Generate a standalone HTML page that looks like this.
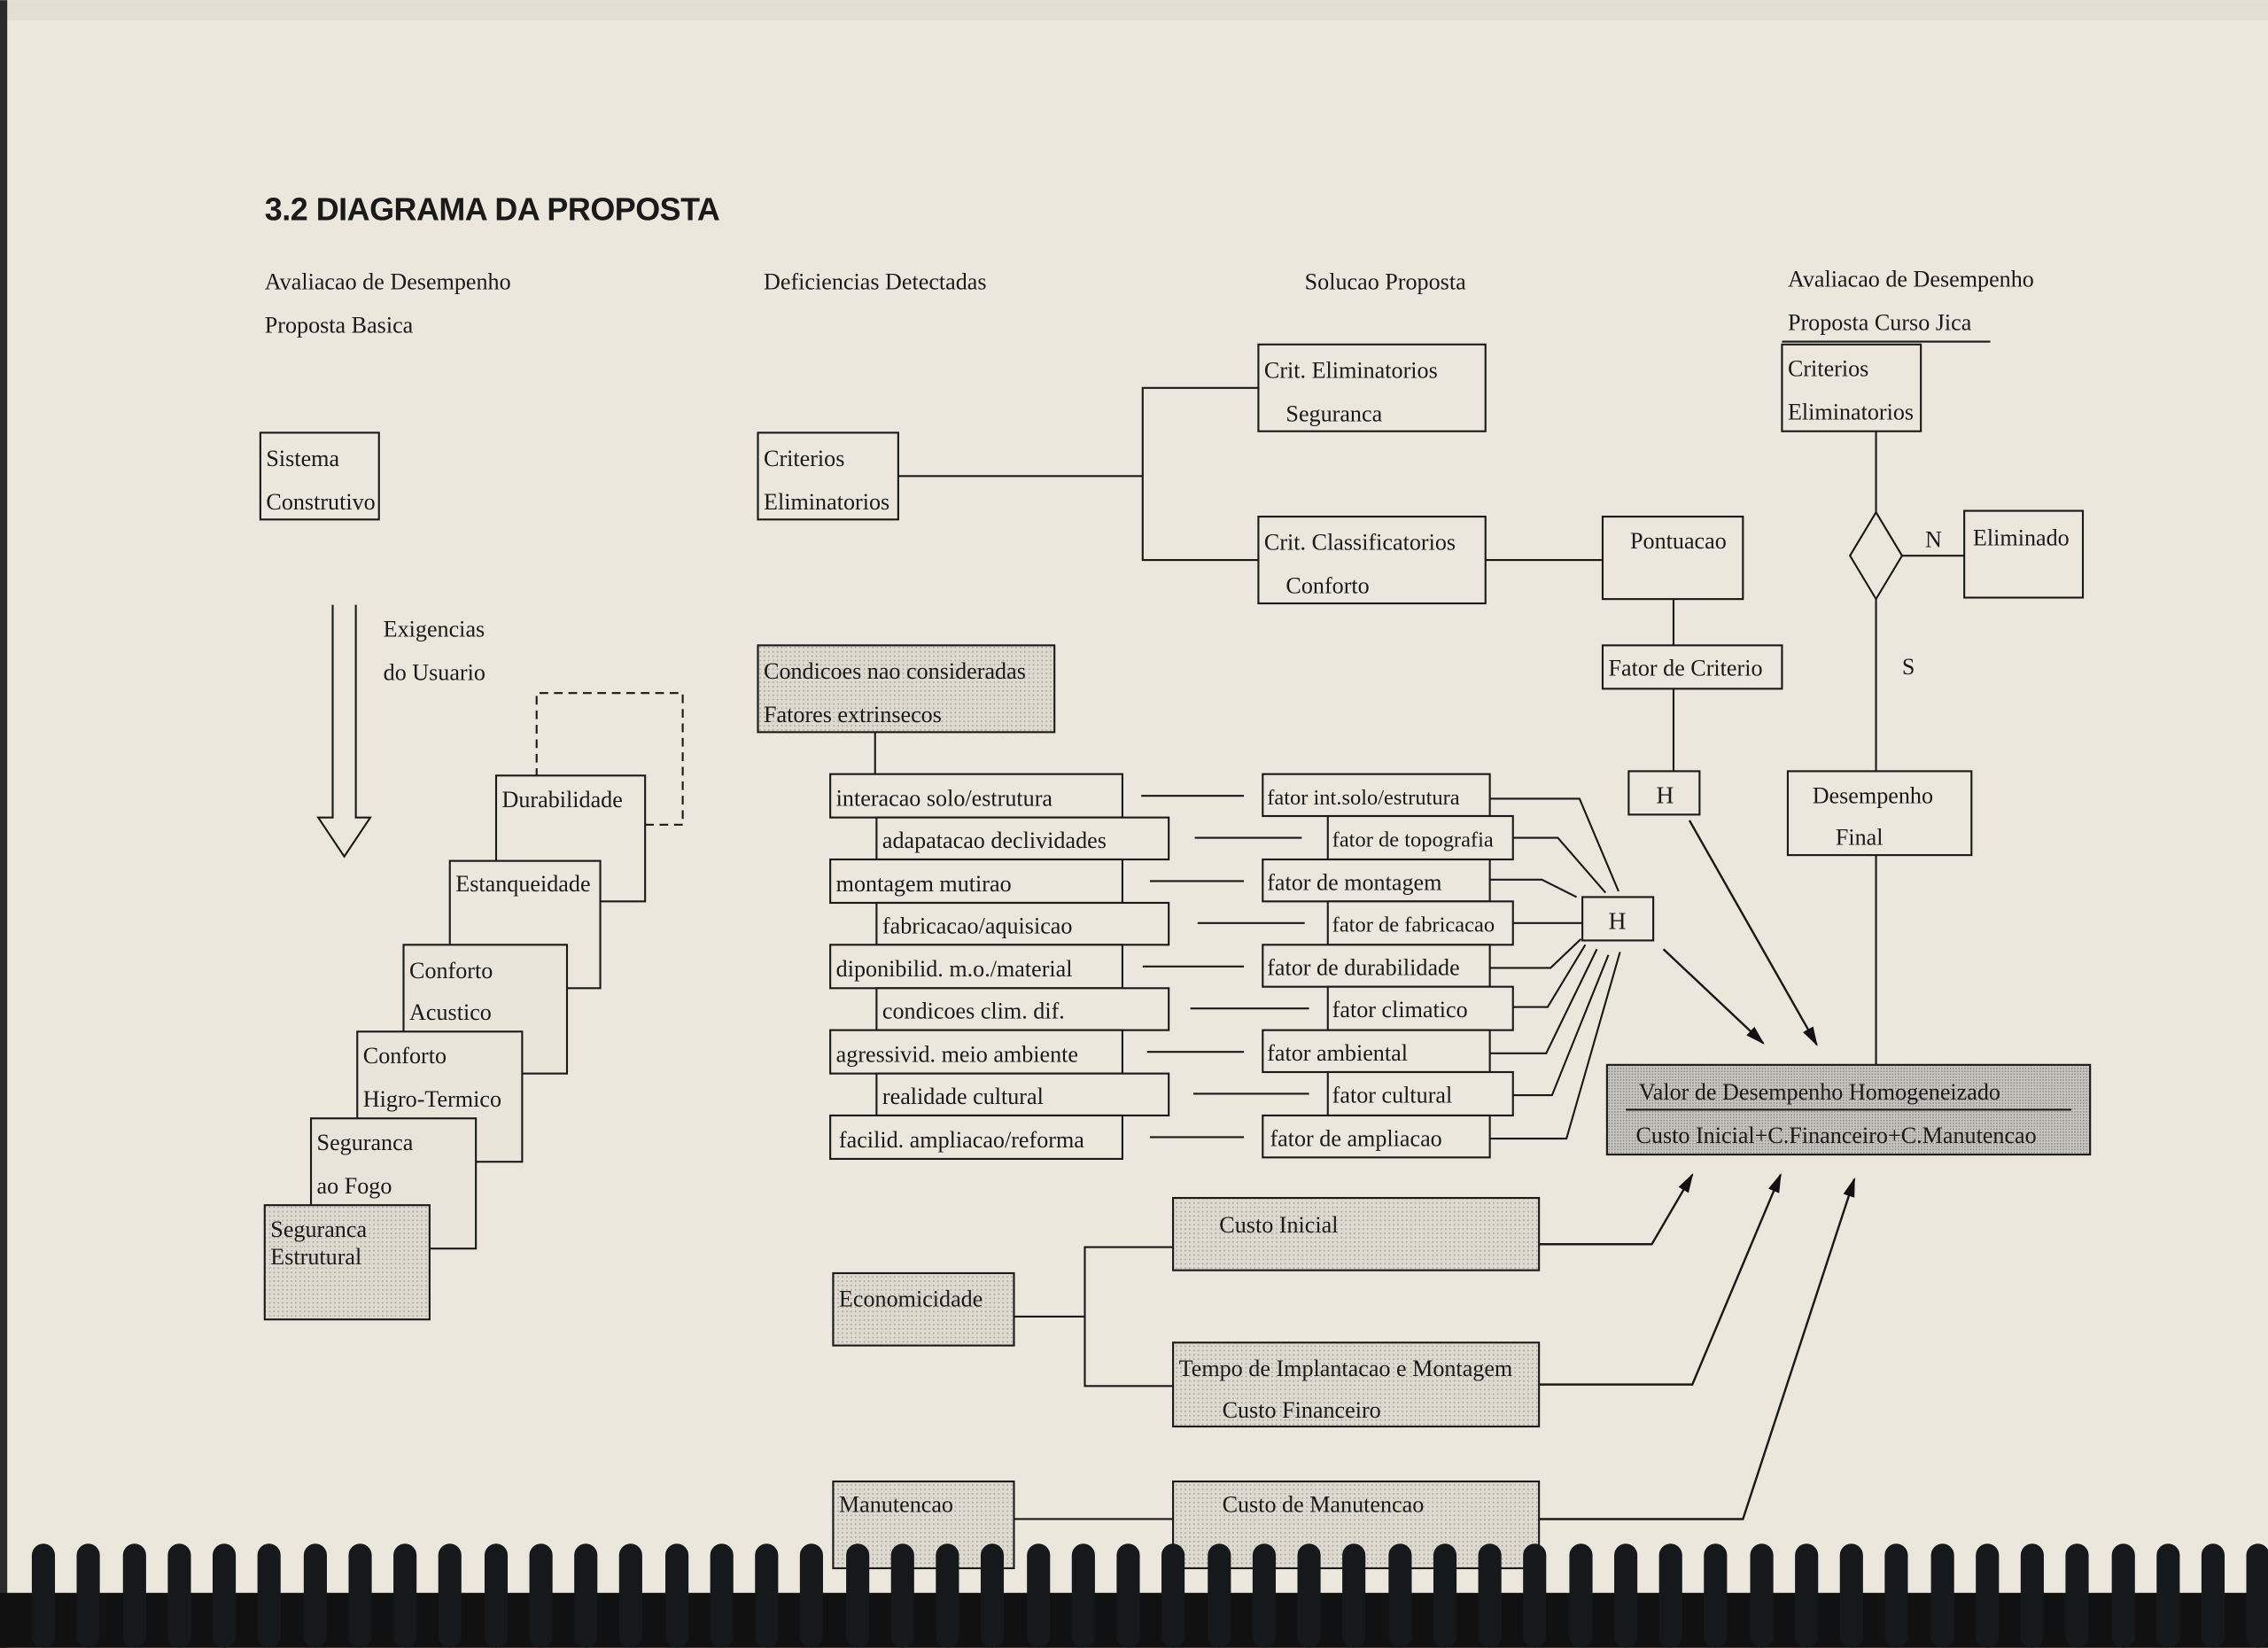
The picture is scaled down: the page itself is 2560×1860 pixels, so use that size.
<!DOCTYPE html>
<html><head><meta charset="utf-8"><style>
html,body{margin:0;padding:0;background:#ebe7dd;}
svg{display:block}
text{font-family:"Liberation Serif",serif;font-size:16px;fill:#1a1a1a}
</style></head><body>
<svg width="2560" height="1860" viewBox="0 0 1568 1139" xmlns="http://www.w3.org/2000/svg">
<defs>
<pattern id="dots" width="3" height="3" patternUnits="userSpaceOnUse"><rect width="3" height="3" fill="#dedad0"/><rect width="1" height="1" fill="#a8a59e"/></pattern>
<pattern id="dots2" width="2" height="2" patternUnits="userSpaceOnUse"><rect width="2" height="2" fill="#c9c7c1"/><rect width="1" height="1" fill="#8d8b86"/></pattern>
<marker id="ah" viewBox="0 0 10 10" refX="9" refY="5" markerWidth="9" markerHeight="9" orient="auto-start-reverse"><path d="M0,2 L10,5 L0,8 z" fill="#111"/></marker>
</defs>
<rect width="1568" height="1139" fill="#ebe7dd"/>
<rect x="0" y="0" width="1568" height="14" fill="#e2ded3"/>
<rect x="0" y="0" width="5" height="1139" fill="#2a2a2a"/>
<text x="183" y="152" style="font-family:'Liberation Sans',sans-serif;font-size:22px;font-weight:bold;letter-spacing:-0.3px">3.2 DIAGRAMA DA PROPOSTA</text>
<text x="183" y="200">Avaliacao de Desempenho</text>
<text x="183" y="230">Proposta Basica</text>
<text x="528" y="200">Deficiencias Detectadas</text>
<text x="902" y="200">Solucao Proposta</text>
<text x="1236" y="198">Avaliacao de  Desempenho</text>
<text x="1236" y="228">Proposta Curso Jica</text>

<g fill="none" stroke="#1a1a1a" stroke-width="1.3">
<line x1="1232" y1="236" x2="1376" y2="236"/>
<rect x="180" y="299" width="82" height="60" fill="#ebe7dd"/>
<rect x="524" y="299" width="97" height="60" fill="#ebe7dd"/>
<rect x="870" y="238" width="157" height="60" fill="#ebe7dd"/>
<rect x="870" y="357" width="157" height="60" fill="#ebe7dd"/>
<rect x="1108" y="357" width="97" height="57"/>
<rect x="1108" y="446" width="124" height="30"/>
<rect x="1126" y="533" width="49" height="30"/>
<rect x="1094" y="620" width="49" height="30"/>
<rect x="1232" y="238" width="96" height="60"/>
<polygon points="1297,354 1315,384 1297,414 1279,384"/>
<rect x="1358" y="353" width="82" height="60"/>
<rect x="1236" y="533" width="127" height="58"/>
<rect x="524" y="446" width="205" height="60" fill="url(#dots)"/>
<polyline points="621,329 790,329"/>
<polyline points="870,268 790,268 790,387 870,387"/>
<line x1="1027" y1="387" x2="1108" y2="387"/>
<line x1="1157" y1="414" x2="1157" y2="446"/>
<line x1="1157" y1="476" x2="1157" y2="533"/>
<line x1="1297" y1="298" x2="1297" y2="354"/>
<line x1="1315" y1="384" x2="1358" y2="384"/>
<line x1="1297" y1="414" x2="1297" y2="533"/>
<line x1="1297" y1="591" x2="1297" y2="736"/>
<line x1="1168" y1="567" x2="1256" y2="722" marker-end="url(#ah)" stroke-width="1.5"/>
<line x1="1150" y1="656" x2="1219" y2="721" marker-end="url(#ah)" stroke-width="1.5"/>
<path d="M230,418 V565 H220 L238,592 L256,565 H246 V418"/>
<polyline points="371,537 371,479 472,479 472,570 446,570" stroke-dasharray="6,4"/>
<rect x="343" y="536" width="103" height="87" fill="#ebe7dd"/>
<rect x="311" y="595" width="104" height="88" fill="#ebe7dd"/>
<rect x="279" y="653" width="113" height="89" fill="#e9e5db"/>
<rect x="247" y="713" width="114" height="90" fill="#e9e5db"/>
<rect x="215" y="773" width="114" height="90" fill="#e8e4da"/>
<rect x="183" y="833" width="114" height="79" fill="url(#dots)"/>
<line x1="605" y1="506" x2="605" y2="535"/>
</g>
<text x="184" y="322">Sistema</text><text x="184" y="352">Construtivo</text>
<text x="528" y="322">Criterios</text><text x="528" y="352">Eliminatorios</text>
<text x="874" y="261">Crit. Eliminatorios</text><text x="889" y="291">Seguranca</text>
<text x="874" y="380">Crit. Classificatorios</text><text x="889" y="410">Conforto</text>
<text x="1127" y="379">Pontuacao</text>
<text x="1112" y="467">Fator de Criterio</text>
<text x="1145" y="555" style="font-size:17px">H</text>
<text x="1112" y="642" style="font-size:17px">H</text>
<text x="1236" y="260">Criterios</text><text x="1236" y="290">Eliminatorios</text>
<text x="1331" y="378">N</text>
<text x="1364" y="377">Eliminado</text>
<text x="1315" y="466">S</text>
<text x="1253" y="555">Desempenho</text><text x="1269" y="584">Final</text>
<text x="528" y="469">Condicoes nao consideradas</text><text x="528" y="499">Fatores extrinsecos</text>
<text x="265" y="440">Exigencias</text><text x="265" y="470">do Usuario</text>
<text x="347" y="558">Durabilidade</text>
<text x="315" y="616">Estanqueidade</text>
<text x="283" y="676">Conforto</text><text x="283" y="705">Acustico</text>
<text x="251" y="735">Conforto</text><text x="251" y="765">Higro-Termico</text>
<text x="219" y="795">Seguranca</text><text x="219" y="825">ao Fogo</text>
<text x="187" y="855">Seguranca</text><text x="187" y="874">Estrutural</text>

<g fill="none" stroke="#1a1a1a" stroke-width="1.3">
<rect x="574" y="535" width="202" height="30"/>
<rect x="606" y="565" width="202" height="29" fill="#ebe7dd"/>
<rect x="574" y="594" width="202" height="30" fill="#ebe7dd"/>
<rect x="606" y="624" width="202" height="29" fill="#ebe7dd"/>
<rect x="574" y="653" width="202" height="30" fill="#ebe7dd"/>
<rect x="606" y="683" width="202" height="29" fill="#ebe7dd"/>
<rect x="574" y="712" width="202" height="30" fill="#ebe7dd"/>
<rect x="606" y="742" width="202" height="29" fill="#ebe7dd"/>
<rect x="574" y="771" width="202" height="30" fill="#ebe7dd"/>
<rect x="873" y="535" width="157" height="29"/>
<rect x="918" y="564" width="128" height="30" fill="#ebe7dd"/>
<rect x="873" y="594" width="157" height="29" fill="#ebe7dd"/>
<rect x="918" y="623" width="128" height="30" fill="#ebe7dd"/>
<rect x="873" y="653" width="157" height="29" fill="#ebe7dd"/>
<rect x="918" y="682" width="128" height="30" fill="#ebe7dd"/>
<rect x="873" y="712" width="157" height="29" fill="#ebe7dd"/>
<rect x="918" y="741" width="128" height="30" fill="#ebe7dd"/>
<rect x="873" y="771" width="157" height="29" fill="#ebe7dd"/>
<line x1="789" y1="550" x2="860" y2="550"/>
<line x1="826" y1="579" x2="900" y2="579"/>
<line x1="795" y1="609" x2="860" y2="609"/>
<line x1="828" y1="638" x2="902" y2="638"/>
<line x1="790" y1="668" x2="860" y2="668"/>
<line x1="823" y1="697" x2="905" y2="697"/>
<line x1="793" y1="727" x2="860" y2="727"/>
<line x1="825" y1="756" x2="905" y2="756"/>
<line x1="795" y1="786" x2="860" y2="786"/>
<polyline points="1030,552 1092,552 1119,616"/>
<polyline points="1046,579 1077,579 1110,617"/>
<polyline points="1030,608 1066,608 1090,620"/>
<line x1="1046" y1="638" x2="1094" y2="638"/>
<polyline points="1030,669 1072,669 1093,649"/>
<polyline points="1046,696 1070,696 1096,653"/>
<polyline points="1030,728 1069,728 1104,656"/>
<polyline points="1046,757 1073,757 1112,660"/>
<polyline points="1030,787 1083,787 1120,658"/>
<rect x="1111" y="736" width="334" height="62" fill="url(#dots2)"/>
<line x1="1124" y1="767" x2="1432" y2="767"/>
<rect x="811" y="828" width="253" height="50" fill="url(#dots)"/>
<rect x="576" y="880" width="125" height="50" fill="url(#dots)"/>
<rect x="811" y="928" width="253" height="58" fill="url(#dots)"/>
<rect x="576" y="1024" width="125" height="60" fill="url(#dots)"/>
<rect x="811" y="1024" width="253" height="60" fill="url(#dots)"/>
<line x1="701" y1="910" x2="750" y2="910"/>
<polyline points="811,862 750,862 750,958 811,958"/>
<line x1="701" y1="1050" x2="811" y2="1050"/>
<polyline points="1064,860 1142,860 1170,812" marker-end="url(#ah)" stroke-width="1.5"/>
<polyline points="1064,957 1170,957 1231,812" marker-end="url(#ah)" stroke-width="1.5"/>
<polyline points="1064,1050 1205,1050 1282,815" marker-end="url(#ah)" stroke-width="1.5"/>
</g>
<text x="578" y="557">interacao solo/estrutura</text>
<text x="610" y="586">adapatacao declividades</text>
<text x="578" y="616">montagem mutirao</text>
<text x="610" y="645">fabricacao/aquisicao</text>
<text x="578" y="675">diponibilid. m.o./material</text>
<text x="610" y="704">condicoes clim. dif.</text>
<text x="578" y="734">agressivid. meio ambiente</text>
<text x="610" y="763">realidade cultural</text>
<text x="580" y="793">facilid. ampliacao/reforma</text>
<text x="876" y="556" style="font-size:15px">fator int.solo/estrutura</text>
<text x="921" y="585" style="font-size:15px">fator de topografia</text>
<text x="876" y="615">fator de montagem</text>
<text x="921" y="644" style="font-size:15px">fator de fabricacao</text>
<text x="876" y="674">fator de durabilidade</text>
<text x="921" y="703">fator climatico</text>
<text x="876" y="733">fator ambiental</text>
<text x="921" y="762">fator cultural</text>
<text x="878" y="792">fator de ampliacao</text>
<text x="1133" y="760">Valor  de  Desempenho  Homogeneizado</text>
<text x="1131" y="790">Custo Inicial+C.Financeiro+C.Manutencao</text>
<text x="843" y="852">Custo Inicial</text>
<text x="580" y="903">Economicidade</text>
<text x="815" y="951">Tempo de Implantacao e Montagem</text>
<text x="845" y="980">Custo Financeiro</text>
<text x="580" y="1045">Manutencao</text>
<text x="845" y="1045">Custo de Manutencao</text>

<rect x="0" y="1101" width="1568" height="38" fill="#111"/>
<g fill="#15191c">
<rect x="22" y="1067" width="16" height="72" rx="8"/><rect x="53" y="1067" width="16" height="72" rx="8"/><rect x="85" y="1067" width="16" height="72" rx="8"/><rect x="116" y="1067" width="16" height="72" rx="8"/><rect x="147" y="1067" width="16" height="72" rx="8"/><rect x="178" y="1067" width="16" height="72" rx="8"/><rect x="210" y="1067" width="16" height="72" rx="8"/><rect x="241" y="1067" width="16" height="72" rx="8"/><rect x="272" y="1067" width="16" height="72" rx="8"/><rect x="303" y="1067" width="16" height="72" rx="8"/><rect x="335" y="1067" width="16" height="72" rx="8"/><rect x="366" y="1067" width="16" height="72" rx="8"/><rect x="397" y="1067" width="16" height="72" rx="8"/><rect x="428" y="1067" width="16" height="72" rx="8"/><rect x="460" y="1067" width="16" height="72" rx="8"/><rect x="491" y="1067" width="16" height="72" rx="8"/><rect x="522" y="1067" width="16" height="72" rx="8"/><rect x="553" y="1067" width="16" height="72" rx="8"/><rect x="585" y="1067" width="16" height="72" rx="8"/><rect x="616" y="1067" width="16" height="72" rx="8"/><rect x="647" y="1067" width="16" height="72" rx="8"/><rect x="678" y="1067" width="16" height="72" rx="8"/><rect x="710" y="1067" width="16" height="72" rx="8"/><rect x="741" y="1067" width="16" height="72" rx="8"/><rect x="772" y="1067" width="16" height="72" rx="8"/><rect x="803" y="1067" width="16" height="72" rx="8"/><rect x="835" y="1067" width="16" height="72" rx="8"/><rect x="866" y="1067" width="16" height="72" rx="8"/><rect x="897" y="1067" width="16" height="72" rx="8"/><rect x="928" y="1067" width="16" height="72" rx="8"/><rect x="960" y="1067" width="16" height="72" rx="8"/><rect x="991" y="1067" width="16" height="72" rx="8"/><rect x="1022" y="1067" width="16" height="72" rx="8"/><rect x="1053" y="1067" width="16" height="72" rx="8"/><rect x="1085" y="1067" width="16" height="72" rx="8"/><rect x="1116" y="1067" width="16" height="72" rx="8"/><rect x="1147" y="1067" width="16" height="72" rx="8"/><rect x="1178" y="1067" width="16" height="72" rx="8"/><rect x="1210" y="1067" width="16" height="72" rx="8"/><rect x="1241" y="1067" width="16" height="72" rx="8"/><rect x="1272" y="1067" width="16" height="72" rx="8"/><rect x="1303" y="1067" width="16" height="72" rx="8"/><rect x="1335" y="1067" width="16" height="72" rx="8"/><rect x="1366" y="1067" width="16" height="72" rx="8"/><rect x="1397" y="1067" width="16" height="72" rx="8"/><rect x="1428" y="1067" width="16" height="72" rx="8"/><rect x="1460" y="1067" width="16" height="72" rx="8"/><rect x="1491" y="1067" width="16" height="72" rx="8"/><rect x="1522" y="1067" width="16" height="72" rx="8"/><rect x="1553" y="1067" width="16" height="72" rx="8"/>
</g>
</svg>
</body></html>
